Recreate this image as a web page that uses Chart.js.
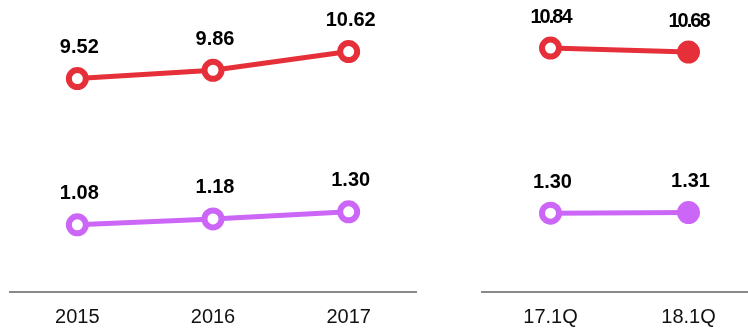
<!DOCTYPE html>
<html>
<head>
<meta charset="utf-8">
<script src="https://cdn.jsdelivr.net/npm/chart.js@4/dist/chart.umd.min.js"></script>
<style>
  html, body { margin: 0; padding: 0; background: #fff; overflow: hidden; width: 748px; height: 330px; position: relative; }
  .panel { position: absolute; top: -14px; height: 358px; }
  .panel canvas { display: block; }
  #yearly { left: -5px; width: 436px; }
  #quarterly { left: 467px; width: 305px; }
</style>
</head>
<body>
<div class="panel" id="yearly"><canvas id="cYear" width="436" height="358"></canvas></div>
<div class="panel" id="quarterly"><canvas id="cQuarter" width="305" height="358"></canvas></div>
<script>
const yearLabels = ['2015', '2016', '2017'];
const quarterLabels = ['17.1Q', '18.1Q'];
const redYearly = [9.52, 9.86, 10.62];
const purpleYearly = [1.08, 1.18, 1.30];
const redQuarterly = [10.84, 10.68];
const purpleQuarterly = [1.30, 1.31];

const RED = '#e5303a';
const PURPLE = '#cc66f7';
const FONT = '"Liberation Sans", Arial, Helvetica, sans-serif';

// Writes each point's value above its marker
const valueLabels = {
  id: 'valueLabels',
  afterDatasetsDraw(chart) {
    const ctx = chart.ctx;
    ctx.save();
    ctx.fillStyle = '#000';
    ctx.textAlign = 'center';
    ctx.textBaseline = 'middle';
    chart.data.datasets.forEach((ds, di) => {
      const meta = chart.getDatasetMeta(di);
      const tight = ds.tightLabels;
      ctx.font = 'bold 20px ' + FONT;
      ctx.letterSpacing = tight ? '-2px' : '0px';
      meta.data.forEach((pt, i) => {
        const txt = ds.data[i].toFixed(2);
        ctx.fillText(txt, pt.x + (tight ? 0 : 2), pt.y - 31);
      });
    });
    ctx.restore();
  }
};

function makeChart(id, labels, red, purple, redRange, purpleRange, filledLast, tight) {
  const fills = (color) => labels.map((_, i) => (filledLast && i === labels.length - 1) ? color : '#ffffff');
  return new Chart(document.getElementById(id), {
    type: 'line',
    data: {
      labels: labels,
      datasets: [
        {
          data: red, yAxisID: 'yRed', borderColor: RED, borderWidth: 5,
          pointBackgroundColor: fills(RED), pointBorderColor: RED,
          pointBorderWidth: 6, pointRadius: 8.5, tension: 0, tightLabels: tight
        },
        {
          data: purple, yAxisID: 'yPurple', borderColor: PURPLE, borderWidth: 5,
          pointBackgroundColor: fills(PURPLE), pointBorderColor: PURPLE,
          pointBorderWidth: 6, pointRadius: 8.5, tension: 0, tightLabels: false
        }
      ]
    },
    options: {
      responsive: false,
      animation: false,
      devicePixelRatio: 1,
      clip: false,
      layout: { padding: { top: 0, left: 0, right: 0, bottom: 2 } },
      plugins: { legend: { display: false }, tooltip: { enabled: false } },
      scales: {
        x: {
          offset: true,
          grid: { display: false, drawTicks: false },
          border: { display: true, color: '#8a8a8a', width: 2 },
          ticks: { color: '#111', padding: 13, font: { family: FONT, size: 20 } }
        },
        yRed: { display: false, min: redRange[0], max: redRange[1] },
        yPurple: { display: false, min: purpleRange[0], max: purpleRange[1] }
      }
    },
    plugins: [valueLabels]
  });
}

makeChart('cYear', yearLabels, redYearly, purpleYearly, [0.842, 12.697], [-0.054, 4.870], false, false);
makeChart('cQuarter', quarterLabels, redQuarterly, purpleQuarterly, [0.92, 12.775], [-0.032, 4.892], true, true);
</script>
</body>
</html>
